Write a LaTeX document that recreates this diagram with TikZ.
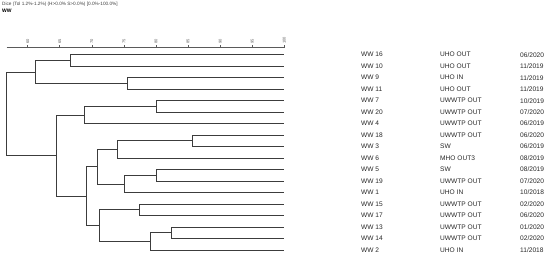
\documentclass[tikz,border=0pt]{standalone}
\usepackage{fontspec}
\setmainfont{Liberation Sans}
\definecolor{treegray}{RGB}{60,60,60}
\definecolor{axisgray}{RGB}{90,90,90}
\usepackage{tikz}
\usetikzlibrary{positioning,calc}

\begin{document}
\begin{tikzpicture}[x=1pt, y=-1pt,
    branch/.style={treegray, line width=0.85pt},
    lbl/.style={anchor=west, inner sep=0, font=\fontsize{6.6}{7}\selectfont, text=black!85},
    scalelbl/.style={rotate=90, anchor=west, inner sep=0, font=\fontsize{4}{4.5}\selectfont, text=axisgray},
]
    \useasboundingbox (0,0) rectangle (550,255);

    % header
    \node[anchor=west, inner sep=0, font=\fontsize{4.7}{5}\selectfont, text=black!75] (head) at (2,4) {Dice (Tol 1.2\%-1.2\%) (H>0.0\% S>0.0\%) [0.0\%-100.0\%]};
    \node[anchor=west, inner sep=0, font=\bfseries\fontsize{5}{6}\selectfont] (grp) at (2,11) {WW};

    % similarity scale
    \coordinate (ax0) at (6.7,47.7);
    \coordinate (ax1) at (284.3,47.7);
    \draw[axisgray, line width=0.5pt] (ax0) -- (ax1);
    \foreach \k in {0,...,43}
        \draw[axisgray, line width=0.4pt] ($(ax1)+(-6.416*\k,0)$) -- ++(0,-1.2);
    \foreach \v [count=\k from 0] in {100,95,90,85,80,75,70,65,60} {
        \draw[axisgray, line width=0.5pt] ($(ax1)+(-32.08*\k,0)$) -- ++(0,-3);
        \node[scalelbl] (s\v) at ($(ax1)+(-32.08*\k,-4)$) {\v};
    }

    % leaves and labels
    \coordinate (l0) at (284.3,54.7);
    \coordinate (l1) at (284.3,66.2);
    \coordinate (l2) at (284.3,77.7);
    \coordinate (l3) at (284.3,89.2);
    \coordinate (l4) at (284.3,100.7);
    \coordinate (l5) at (284.3,112.2);
    \coordinate (l6) at (284.3,123.6);
    \coordinate (l7) at (284.3,135.1);
    \coordinate (l8) at (284.3,146.6);
    \coordinate (l9) at (284.3,158.1);
    \coordinate (l10) at (284.3,169.6);
    \coordinate (l11) at (284.3,181.1);
    \coordinate (l12) at (284.3,192.6);
    \coordinate (l13) at (284.3,204.1);
    \coordinate (l14) at (284.3,215.6);
    \coordinate (l15) at (284.3,227.1);
    \coordinate (l16) at (284.3,238.5);
    \coordinate (l17) at (284.3,250.0);

    \node[lbl] (id0) at (361,54.7) {WW 16};      \node[lbl] (src0) at (440,54.7) {UHO OUT};     \node[lbl] (dt0) at (520,54.7) {06/2020};
    \node[lbl] (id1) at (361,66.2) {WW 10};      \node[lbl] (src1) at (440,66.2) {UHO OUT};     \node[lbl] (dt1) at (520,66.2) {11/2019};
    \node[lbl] (id2) at (361,77.7) {WW 9};       \node[lbl] (src2) at (440,77.7) {UHO IN};      \node[lbl] (dt2) at (520,77.7) {11/2019};
    \node[lbl] (id3) at (361,89.2) {WW 11};      \node[lbl] (src3) at (440,89.2) {UHO OUT};     \node[lbl] (dt3) at (520,89.2) {11/2019};
    \node[lbl] (id4) at (361,100.7) {WW 7};      \node[lbl] (src4) at (440,100.7) {UWWTP OUT};  \node[lbl] (dt4) at (520,100.7) {10/2019};
    \node[lbl] (id5) at (361,112.2) {WW 20};     \node[lbl] (src5) at (440,112.2) {UWWTP OUT};  \node[lbl] (dt5) at (520,112.2) {07/2020};
    \node[lbl] (id6) at (361,123.6) {WW 4};      \node[lbl] (src6) at (440,123.6) {UWWTP OUT};  \node[lbl] (dt6) at (520,123.6) {06/2019};
    \node[lbl] (id7) at (361,135.1) {WW 18};     \node[lbl] (src7) at (440,135.1) {UWWTP OUT};  \node[lbl] (dt7) at (520,135.1) {06/2020};
    \node[lbl] (id8) at (361,146.6) {WW 3};      \node[lbl] (src8) at (440,146.6) {SW};         \node[lbl] (dt8) at (520,146.6) {06/2019};
    \node[lbl] (id9) at (361,158.1) {WW 6};      \node[lbl] (src9) at (440,158.1) {MHO OUT3};   \node[lbl] (dt9) at (520,158.1) {08/2019};
    \node[lbl] (id10) at (361,169.6) {WW 5};     \node[lbl] (src10) at (440,169.6) {SW};        \node[lbl] (dt10) at (520,169.6) {08/2019};
    \node[lbl] (id11) at (361,181.1) {WW 19};    \node[lbl] (src11) at (440,181.1) {UWWTP OUT}; \node[lbl] (dt11) at (520,181.1) {07/2020};
    \node[lbl] (id12) at (361,192.6) {WW 1};     \node[lbl] (src12) at (440,192.6) {UHO IN};    \node[lbl] (dt12) at (520,192.6) {10/2018};
    \node[lbl] (id13) at (361,204.1) {WW 15};    \node[lbl] (src13) at (440,204.1) {UWWTP OUT}; \node[lbl] (dt13) at (520,204.1) {02/2020};
    \node[lbl] (id14) at (361,215.6) {WW 17};    \node[lbl] (src14) at (440,215.6) {UWWTP OUT}; \node[lbl] (dt14) at (520,215.6) {06/2020};
    \node[lbl] (id15) at (361,227.1) {WW 13};    \node[lbl] (src15) at (440,227.1) {UWWTP OUT}; \node[lbl] (dt15) at (520,227.1) {01/2020};
    \node[lbl] (id16) at (361,238.5) {WW 14};    \node[lbl] (src16) at (440,238.5) {UWWTP OUT}; \node[lbl] (dt16) at (520,238.5) {02/2020};
    \node[lbl] (id17) at (361,250.0) {WW 2};     \node[lbl] (src17) at (440,250.0) {UHO IN};    \node[lbl] (dt17) at (520,250.0) {11/2018};

    % joins
    \coordinate (a1) at (70.7,60.45);
    \coordinate (a2) at (127.7,83.45);
    \coordinate (ca) at (35.7,71.95);
    \coordinate (b1a) at (156,106.45);
    \coordinate (b1) at (84.3,115.0);
    \coordinate (c78) at (192.7,140.85);
    \coordinate (b2a1) at (117.3,149.5);
    \coordinate (c1011) at (156,175.35);
    \coordinate (b2a2) at (124,183.95);
    \coordinate (b2a) at (97.3,166.7);
    \coordinate (b2b1) at (139.3,209.85);
    \coordinate (c1516) at (171,232.8);
    \coordinate (b2b2) at (150,241.4);
    \coordinate (b2b) at (99,225.6);
    \coordinate (b2) at (86,196.15);
    \coordinate (cb) at (56.7,155.6);
    \coordinate (root) at (6,113.8);

    \draw[branch] (a1) |- (l0);
    \draw[branch] (a1) |- (l1);
    \draw[branch] (a2) |- (l2);
    \draw[branch] (a2) |- (l3);
    \draw[branch] (ca) |- (a1);
    \draw[branch] (ca) |- (a2);
    \draw[branch] (b1a) |- (l4);
    \draw[branch] (b1a) |- (l5);
    \draw[branch] (b1) |- (b1a);
    \draw[branch] (b1) |- (l6);
    \draw[branch] (c78) |- (l7);
    \draw[branch] (c78) |- (l8);
    \draw[branch] (b2a1) |- (c78);
    \draw[branch] (b2a1) |- (l9);
    \draw[branch] (c1011) |- (l10);
    \draw[branch] (c1011) |- (l11);
    \draw[branch] (b2a2) |- (c1011);
    \draw[branch] (b2a2) |- (l12);
    \draw[branch] (b2a) |- (b2a1);
    \draw[branch] (b2a) |- (b2a2);
    \draw[branch] (b2b1) |- (l13);
    \draw[branch] (b2b1) |- (l14);
    \draw[branch] (c1516) |- (l15);
    \draw[branch] (c1516) |- (l16);
    \draw[branch] (b2b2) |- (c1516);
    \draw[branch] (b2b2) |- (l17);
    \draw[branch] (b2b) |- (b2b1);
    \draw[branch] (b2b) |- (b2b2);
    \draw[branch] (b2) |- (b2a);
    \draw[branch] (b2) |- (b2b);
    \draw[branch] (cb) |- (b1);
    \draw[branch] (cb) |- (b2);
    \draw[branch] (root) |- (ca);
    \draw[branch] (root) |- (cb);
\end{tikzpicture}
\end{document}
